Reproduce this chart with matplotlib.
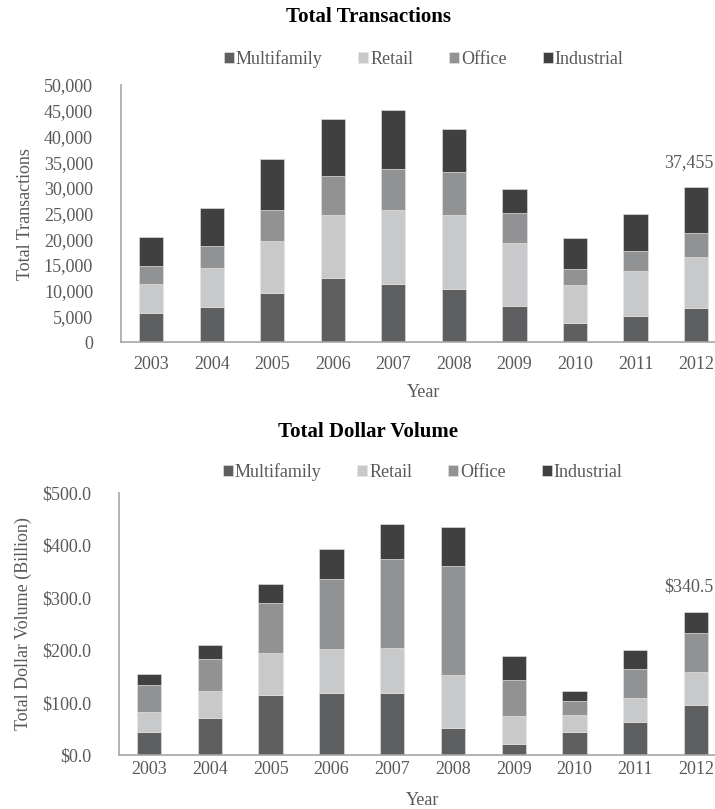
import matplotlib.pyplot as plt
import numpy as np
from matplotlib.ticker import FuncFormatter

plt.rcParams['font.family'] = ['Liberation Serif', 'DejaVu Serif']

# Datos
years = ["2003", "2004", "2005", "2006", "2007", "2008", "2009", "2010", "2011", "2012"]
series = ["Multifamily", "Retail", "Office", "Industrial"]
colores = ["#5e5f61", "#c8c9cb", "#919294", "#404040"]

# Total de transacciones
trans_multi = [5600, 6900, 9500, 12400, 11300, 10400, 7000, 3800, 5050, 6600]
trans_retail = [5800, 7500, 10100, 12400, 14400, 14250, 12300, 7250, 8800, 10050]
trans_office = [3400, 4350, 6000, 7600, 8000, 8400, 5900, 3150, 3950, 4650]
trans_ind = [5600, 7400, 10000, 10900, 11450, 8350, 4650, 6150, 7150, 8950]

# Volumen en dolares (miles de millones)
vol_multi = [43, 71, 114, 119, 118, 51, 21, 43, 63, 95]
vol_retail = [39.5, 51, 81.5, 84, 86.5, 101.5, 53.5, 32.5, 46.5, 62.5]
vol_office = [52, 61.5, 94, 133, 170, 208, 69, 27, 55, 75.5]
vol_ind = [21, 25.5, 37, 57, 67, 74.5, 46, 20, 36.5, 39.5]

nota_trans = "37,455"
nota_vol = "$340.5"

GRIS_TEXTO = "#595959"
GRIS_EJE = "#a6a6a6"


def grafico_apilado(ax, datos, ymax, paso, formato, ylabel, nota, nota_y,
                    pad_x, pad_year, y_leyenda):
    x = np.arange(len(years))
    base = np.zeros(len(years))
    for nombre, valores, color in zip(series, datos, colores):
        ax.bar(x, valores, width=0.4, bottom=base, color=color, label=nombre,
               edgecolor="#e6e6e6", linewidth=0.4)
        base += np.array(valores)

    ax.set_xlim(-0.5, 9.5)
    ax.set_ylim(0, ymax)
    ax.set_yticks(np.arange(0, ymax + paso / 2, paso))
    ax.yaxis.set_major_formatter(FuncFormatter(formato))
    ax.set_xticks(x)
    ax.set_xticklabels(years)
    ax.tick_params(axis="both", length=0, labelsize=13, colors=GRIS_TEXTO)
    ax.tick_params(axis="y", pad=20)
    ax.tick_params(axis="x", pad=pad_x)
    for lado in ["top", "right"]:
        ax.spines[lado].set_visible(False)
    for lado in ["left", "bottom"]:
        ax.spines[lado].set_color(GRIS_EJE)
        ax.spines[lado].set_linewidth(1.2)

    ax.set_ylabel(ylabel, fontsize=13, color=GRIS_TEXTO, labelpad=7)
    ax.set_xlabel("Year", fontsize=13, color=GRIS_TEXTO, labelpad=pad_year)
    ax.text(8.47, nota_y, nota, fontsize=13, color=GRIS_TEXTO,
            ha="left", va="center", clip_on=False)

    ax.legend(loc="center", bbox_to_anchor=(0.5, y_leyenda), ncol=4,
              frameon=False, fontsize=13, labelcolor=GRIS_TEXTO,
              handlelength=0.55, handleheight=0.55, handletextpad=0.1,
              columnspacing=2.0)


fig = plt.figure(figsize=(7.15, 8.09), dpi=100)

ax1 = fig.add_axes([0.169, 0.577, 0.847, 0.318])
grafico_apilado(ax1, [trans_multi, trans_retail, trans_office, trans_ind],
                50000, 5000, lambda v, p: f"{v:,.0f}",
                "Total Transactions", nota_trans, 35000, 10, 7.5, 1.10)
fig.text(0.515, 0.979, "Total Transactions", ha="center", va="center",
         fontsize=15, fontweight="bold")

ax2 = fig.add_axes([0.166, 0.0667, 0.850, 0.324])
grafico_apilado(ax2, [vol_multi, vol_retail, vol_office, vol_ind],
                500, 100, lambda v, p: f"${v:,.1f}",
                "Total Dollar Volume (Billion)", nota_vol, 320, 4, 10.5, 1.08)
fig.text(0.515, 0.466, "Total Dollar Volume", ha="center", va="center",
         fontsize=15, fontweight="bold")

fig.savefig("out.png", dpi=100)
